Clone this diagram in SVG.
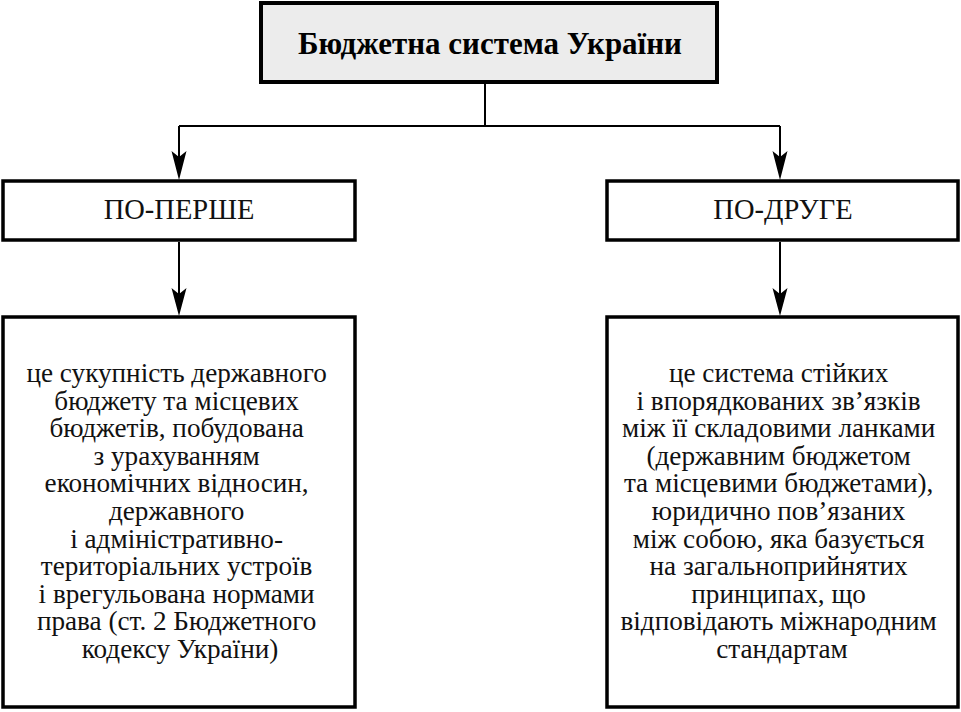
<svg xmlns="http://www.w3.org/2000/svg" width="961" height="712" viewBox="0 0 961 712">
<style>
.box{fill:#fff;stroke:#000;stroke-width:3.5}
.title{fill:#ececec;stroke:#000;stroke-width:4}
.t{font-family:"Liberation Serif","DejaVu Serif",serif;font-size:27.2px;fill:#111;text-anchor:middle}
.h{font-family:"Liberation Serif","DejaVu Serif",serif;font-size:28.5px;fill:#111;text-anchor:middle}
.b{font-family:"Liberation Serif","DejaVu Serif",serif;font-size:31px;font-weight:bold;fill:#000;text-anchor:middle}
.ln{fill:none;stroke:#000;stroke-width:2}
.ah{fill:#000;stroke:none}
</style>
<g id="connectors">
<path class="ln" d="M485,83 V126"/>
<path class="ln" d="M179,126 H780"/>
<path class="ln" d="M179,126 V165"/>
<path class="ln" d="M780,126 V165"/>
<path class="ln" d="M179,242 V302"/>
<path class="ln" d="M780,242 V302"/>
<path class="ah" d="M171.5,151 L179,157 L186.5,151 L179,180 Z"/>
<path class="ah" d="M772.5,151 L780,157 L787.5,151 L780,180 Z"/>
<path class="ah" d="M171.5,288 L179,294 L186.5,288 L179,316 Z"/>
<path class="ah" d="M772.5,288 L780,294 L787.5,288 L780,316 Z"/>
</g>
<g id="root">
<rect class="title" x="261" y="3" width="456" height="79"/>
<text class="b" x="490" y="54">Бюджетна система України</text>
</g>
<g id="first">
<rect class="box" x="3" y="181" width="352" height="59"/>
<text class="h" x="179" y="219">ПО-ПЕРШЕ</text>
</g>
<g id="second">
<rect class="box" x="607" y="181" width="351" height="59"/>
<text class="h" x="783" y="219">ПО-ДРУГЕ</text>
</g>
<g id="first-text">
<rect class="box" x="3" y="317" width="352" height="390"/>
<text class="t">
<tspan x="180" y="382">це сукупність державного</tspan>
<tspan x="180" y="409.6">бюджету та місцевих</tspan>
<tspan x="180" y="437.2">бюджетів, побудована</tspan>
<tspan x="180" y="464.8">з урахуванням</tspan>
<tspan x="180" y="492.4">економічних відносин,</tspan>
<tspan x="180" y="520">державного</tspan>
<tspan x="180" y="547.6">і адміністративно-</tspan>
<tspan x="180" y="575.2">територіальних устроїв</tspan>
<tspan x="180" y="602.8">і врегульована нормами</tspan>
<tspan x="180" y="630.4">права (ст. 2 Бюджетного</tspan>
<tspan x="180" y="658">кодексу України)</tspan>
</text>
</g>
<g id="second-text">
<rect class="box" x="607" y="317" width="351" height="390"/>
<text class="t">
<tspan x="782" y="382">це система стійких</tspan>
<tspan x="782" y="409.6">і впорядкованих зв’язків</tspan>
<tspan x="782" y="437.2">між її складовими ланками</tspan>
<tspan x="782" y="464.8">(державним бюджетом</tspan>
<tspan x="782" y="492.4">та місцевими бюджетами),</tspan>
<tspan x="782" y="520">юридично пов’язаних</tspan>
<tspan x="782" y="547.6">між собою, яка базується</tspan>
<tspan x="782" y="575.2">на загальноприйнятих</tspan>
<tspan x="782" y="602.8">принципах, що</tspan>
<tspan x="782" y="630.4">відповідають міжнародним</tspan>
<tspan x="782" y="658">стандартам</tspan>
</text>
</g>
</svg>
